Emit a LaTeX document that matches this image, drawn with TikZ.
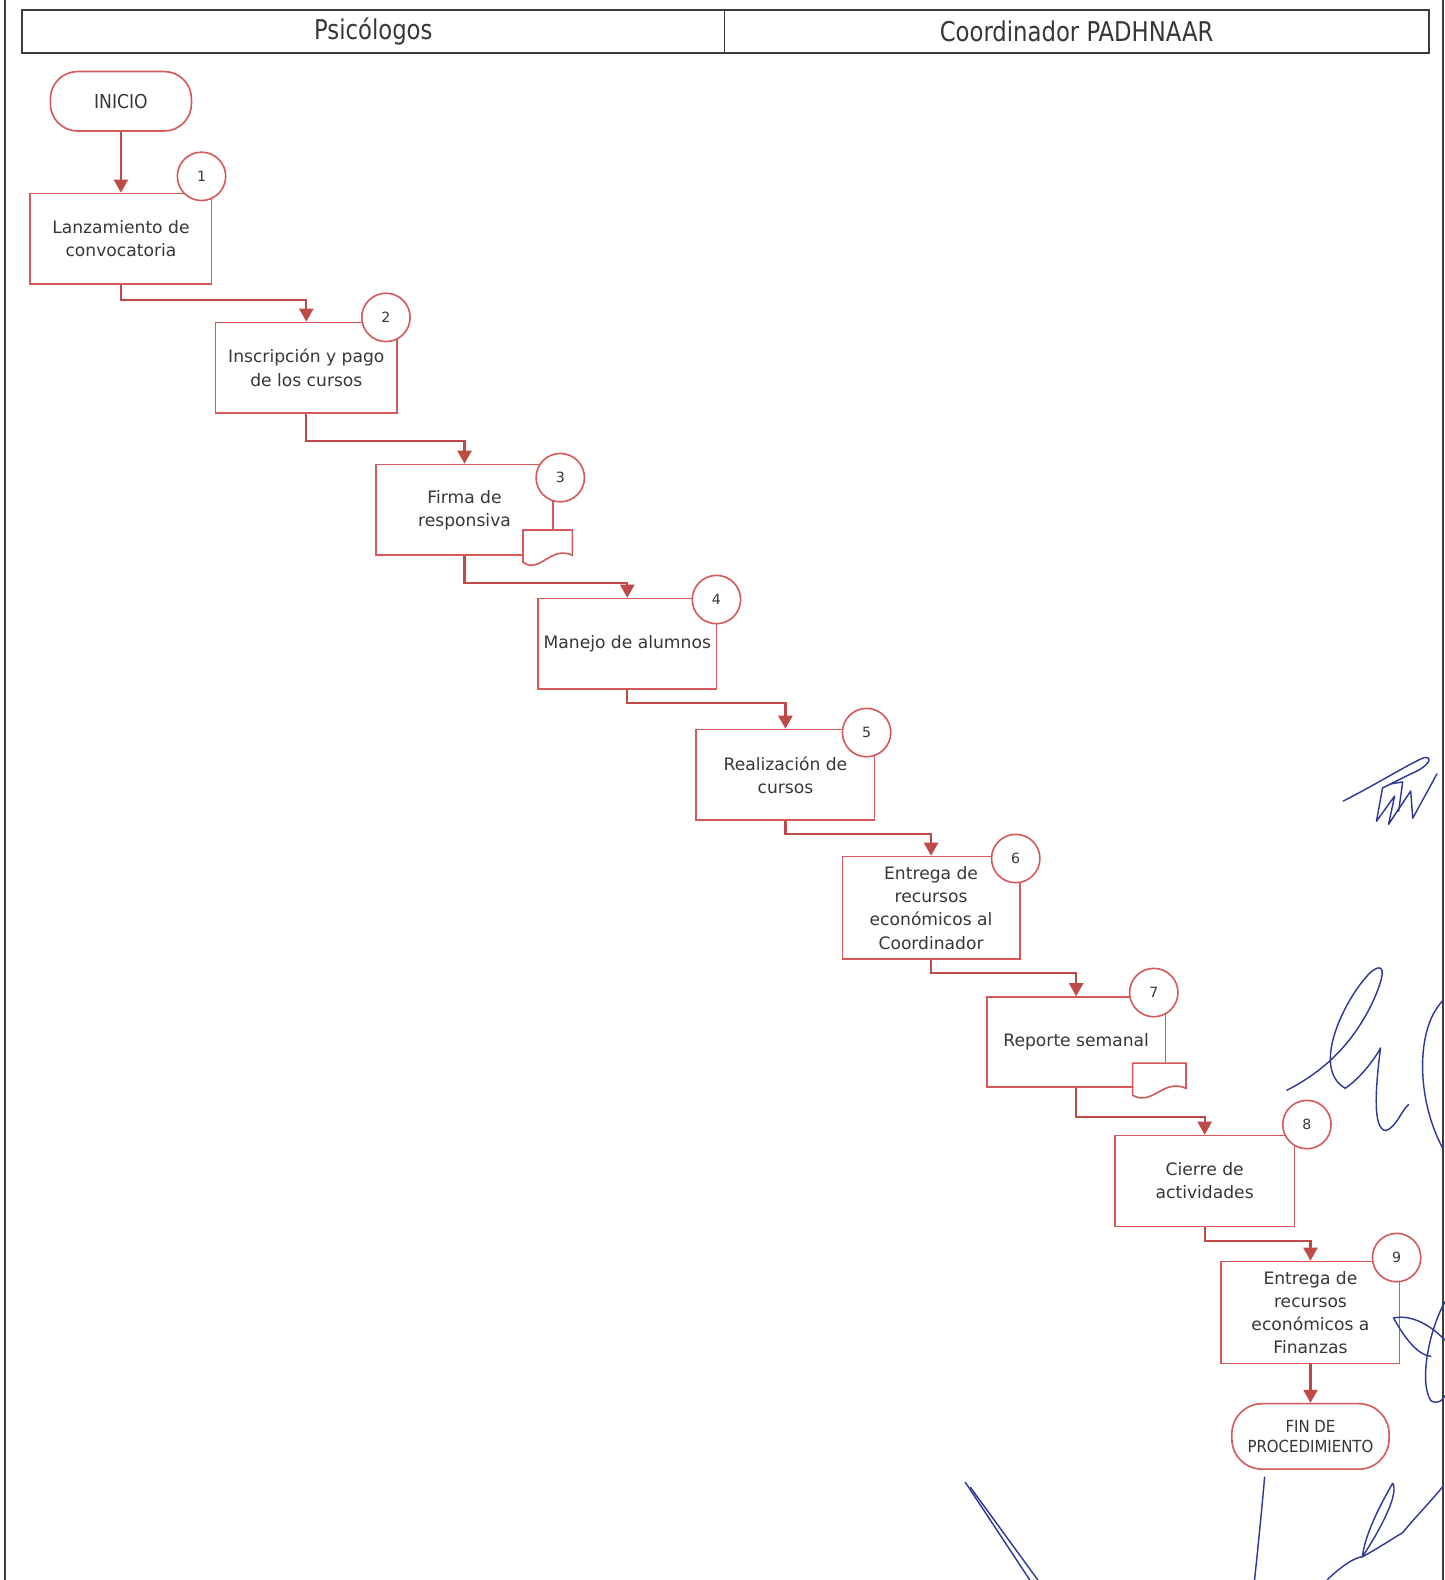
\documentclass[tikz,border=0pt]{standalone}
\usepackage{fontspec}
\setmainfont{DejaVu Sans}
\newfontfamily\condfont{DejaVu Sans Condensed}
\newfontfamily\headfont[FakeStretch=0.93]{DejaVu Sans Condensed}
\usetikzlibrary{arrows.meta,calc}
\definecolor{boxred}{RGB}{214,88,88}
\definecolor{linered}{RGB}{190,75,72}
\definecolor{txtgray}{RGB}{55,55,55}
\definecolor{framegray}{RGB}{60,60,60}
\definecolor{inkblue}{RGB}{45,55,150}
\begin{document}
\begin{tikzpicture}[x=1pt,y=-1pt,
 stepbox/.style={draw=boxred,line width=1.6pt,fill=white,minimum width=178pt,minimum height=90pt,inner sep=2pt,align=center,font=\fontsize{17}{23}\selectfont,text=txtgray},
 numcirc/.style={circle,draw=boxred,line width=1.6pt,fill=white,minimum size=48pt,inner sep=0pt,font=\fontsize{14}{16}\selectfont,text=txtgray},
 termbox/.style={draw=boxred,line width=1.6pt,fill=white,align=center,text=txtgray,inner sep=1pt},
 conn/.style={draw=linered,line width=2.2pt,-{Triangle[width=14pt,length=13pt]}},
 docshape/.style={draw=boxred,line width=1.6pt,fill=white},
 ink/.style={draw=inkblue,line width=1.4pt,line cap=round,line join=round},
 frameline/.style={draw=framegray,line width=1.8pt},
 lanehead/.style={draw=framegray,line width=1.8pt,minimum height=43pt,inner sep=0pt,text=txtgray,font=\headfont\fontsize{27}{30}\selectfont},
]
\useasboundingbox (0,0) rectangle (1434,1568);
\fill[white] (0,0) rectangle (1434,1568);

% page frame
\draw[frameline] (5,0) -- (5,1568);
\draw[frameline] (1432,0) -- (1432,1568);

% lane headers
\node[lanehead,minimum width=697pt] (hdrL) at (370.5,31.5) {Psicólogos};
\node[lanehead,minimum width=699pt] (hdrR) at (1068.5,31.5) {Coordinador PADHNAAR};

% terminals
\node[termbox,minimum width=140pt,minimum height=59pt,rounded corners=27pt,font=\condfont\fontsize{19}{22}\selectfont] (ini) at (120,100.5) {INICIO};
\node[termbox,minimum width=156pt,minimum height=65pt,rounded corners=30pt,font=\condfont\fontsize{16.5}{20}\selectfont] (fin) at (1300.5,1425.5) {FIN DE\\PROCEDIMIENTO};

% steps
\node[stepbox,minimum width=180pt] (b1) at (120,237) {Lanzamiento de\\convocatoria};
\node[numcirc] (c1) at (200,175) {1};

\node[stepbox,minimum width=180pt] (b2) at (304,365) {Inscripción y pago\\de los cursos};
\node[numcirc] (c2) at (383,315) {2};

\node[stepbox,minimum width=176pt] (b3) at (461,506) {Firma de\\responsiva};
\draw[docshape] (519,526) -- (568,526) -- (568,551) .. controls (546,541) and (536,570) .. (519,558) -- cycle;
\node[numcirc] (c3) at (556,474) {3};

\node[stepbox,minimum width=177pt] (b4) at (622.5,639) {Manejo de alumnos};
\node[numcirc] (c4) at (711,595) {4};

\node[stepbox,minimum width=177pt] (b5) at (779.5,769) {Realización de\\cursos};
\node[numcirc] (c5) at (860,727) {5};

\node[stepbox,minimum width=176pt,minimum height=102pt] (b6) at (924,901) {Entrega de\\recursos\\económicos al\\Coordinador};
\node[numcirc] (c6) at (1008,852) {6};

\node[stepbox,minimum width=177pt,minimum height=89pt] (b7) at (1068,1034) {Reporte semanal};
\draw[docshape] (1124,1055) -- (1177,1055) -- (1177,1080) .. controls (1154,1070) and (1144,1098) .. (1124,1087) -- cycle;
\node[numcirc] (c7) at (1145,985) {7};

\node[stepbox,minimum width=178pt] (b8) at (1195.5,1172) {Cierre de\\actividades};
\node[numcirc] (c8) at (1297,1116) {8};

\node[stepbox,minimum width=177pt,minimum height=101pt] (b9) at (1300.5,1302.5) {Entrega de\\recursos\\económicos a\\Finanzas};
\node[numcirc] (c9) at (1386,1248) {9};

% connectors
\draw[conn] (ini.south) -- (b1.north);
\draw[conn] (b1.south) -- ++(0,15) -| (b2.north);
\draw[conn] (b2.south) -- ++(0,27) -| (b3.north);
\draw[conn] (b3.south) -- ++(0,27) -| (b4.north);
\draw[conn] (b4.south) -- ++(0,13) -| (b5.north);
\draw[conn] (b5.south) -- ++(0,13) -| (b6.north);
\draw[conn] (b6.south) -- ++(0,13) -| (b7.north);
\draw[conn] (b7.south) -- ++(0,29) -| (b8.north);
\draw[conn] (b8.south) -- ++(0,14) -| (b9.north);
\draw[conn] (b9.south) -- (fin.north);

% handwritten signatures
\draw[ink] (1333,795) .. controls (1370,776) and (1400,757) .. (1413,752) .. controls (1422,750) and (1420,760) .. (1400,768) -- (1372,782);
\draw[ink] (1372,782) -- (1366,815) -- (1384,790) -- (1378,818) -- (1400,785) -- (1402,812) -- (1426,768);
\draw[ink] (1380,778) -- (1392,776) -- (1388,805);
\draw[ink] (1277,1082) .. controls (1320,1060) and (1345,1030) .. (1362,995) .. controls (1378,960) and (1372,955) .. (1360,965) .. controls (1335,990) and (1300,1060) .. (1335,1080);
\draw[ink] (1335,1080) .. controls (1350,1070) and (1365,1050) .. (1370,1040) .. controls (1365,1080) and (1362,1120) .. (1375,1122) .. controls (1385,1120) and (1392,1100) .. (1398,1096);
\draw[ink] (1432,993) .. controls (1405,1020) and (1405,1090) .. (1432,1140);
\draw[ink] (1383,1308) .. controls (1400,1304) and (1420,1315) .. (1434,1330);
\draw[ink] (1383,1308) .. controls (1395,1330) and (1408,1345) .. (1420,1346);
\draw[ink] (1434,1292) .. controls (1418,1320) and (1408,1372) .. (1420,1390) .. controls (1426,1394) and (1432,1390) .. (1434,1385);
\draw[ink] (958,1471) -- (1022,1568);
\draw[ink] (963,1476) -- (1030,1568);
\draw[ink] (1255,1466) .. controls (1252,1500) and (1248,1540) .. (1245,1568);
\draw[ink] (1382,1472) .. controls (1372,1490) and (1355,1520) .. (1352,1545) .. controls (1375,1510) and (1388,1480) .. (1382,1472);
\draw[ink] (1317,1568) .. controls (1330,1555) and (1345,1545) .. (1352,1545) .. controls (1370,1535) and (1385,1525) .. (1392,1521) .. controls (1405,1505) and (1420,1490) .. (1432,1475);
\end{tikzpicture}
\end{document}
